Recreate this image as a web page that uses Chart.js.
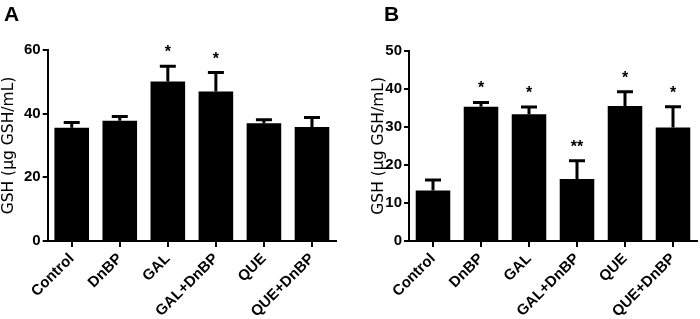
<!DOCTYPE html>
<html>
<head>
<meta charset="utf-8">
<script src="https://cdn.jsdelivr.net/npm/chart.js@4.4.0/dist/chart.umd.min.js"></script>
<style>
  html, body { margin: 0; padding: 0; background: #fff; }
  #wrap { position: relative; width: 700px; height: 319px; overflow: hidden; }
  .panel { position: absolute; top: 0; width: 350px; height: 319px; }
  .letter { position: absolute; top: 3px; font: bold 21px/21px "Liberation Sans", Arial, sans-serif; color: #000; }
</style>
</head>
<body>
<div id="wrap">
  <div class="panel" style="left:0"><canvas id="chart-a" width="350" height="319"></canvas></div>
  <div class="panel" style="left:350px"><canvas id="chart-b" width="350" height="319"></canvas></div>
  <div class="letter" style="left:4px">A</div>
  <div class="letter" style="left:384px">B</div>
</div>
<script>
  // groups (same for both panels)
  var categories = ['Control', 'DnBP', 'GAL', 'GAL+DnBP', 'QUE', 'QUE+DnBP'];

  // panel A: mean and upper error (µg GSH/mL)
  var gshA = [35.6, 37.8, 50.1, 47.0, 37.0, 35.8];
  var errA = [1.6, 1.3, 4.8, 5.9, 1.1, 3.0];
  var starsA = ['', '', '*', '*', '', ''];

  // panel B
  var gshB = [13.3, 35.3, 33.3, 16.3, 35.5, 29.8];
  var errB = [2.7, 1.1, 1.9, 4.8, 3.7, 5.5];
  var starsB = ['', '*', '*', '**', '*', '*'];

  var yTitle = 'GSH (µg GSH/mL)';
  var FONT = '"Liberation Sans", Arial, sans-serif';

  Chart.defaults.font.family = FONT;
  Chart.defaults.color = '#000';

  // error bars (upper only) + significance stars
  var errorBars = {
    id: 'errorBars',
    afterDatasetsDraw: function(chart, args, opts) {
      var ctx = chart.ctx;
      var y = chart.scales.y;
      var ds = chart.data.datasets[0];
      var meta = chart.getDatasetMeta(0);
      ctx.save();
      ctx.strokeStyle = '#000';
      ctx.fillStyle = '#000';
      ctx.lineWidth = 3;
      meta.data.forEach(function(bar, i) {
        var top = y.getPixelForValue(ds.data[i] + opts.errors[i]);
        ctx.beginPath();
        ctx.moveTo(bar.x, bar.y);
        ctx.lineTo(bar.x, top);
        ctx.moveTo(bar.x - 8, top);
        ctx.lineTo(bar.x + 8, top);
        ctx.stroke();
        if (opts.stars[i]) {
          ctx.font = 'bold 16px ' + FONT;
          ctx.textAlign = 'center';
          ctx.textBaseline = 'alphabetic';
          ctx.fillText(opts.stars[i], bar.x, top - 9);
        }
      });
      ctx.restore();
    }
  };

  function makePanel(id, values, errors, stars, yMax, yStep, box) {
    return new Chart(document.getElementById(id), {
      type: 'bar',
      data: {
        labels: categories,
        datasets: [{
          data: values,
          backgroundColor: '#000',
          borderWidth: 0,
          barPercentage: 0.72,
          categoryPercentage: 1
        }]
      },
      options: {
        responsive: false,
        animation: false,
        devicePixelRatio: 1,
        layout: { padding: { top: box.top, left: box.left, right: box.right, bottom: 0 } },
        plugins: {
          legend: { display: false },
          tooltip: { enabled: false },
          errorBars: { errors: errors, stars: stars }
        },
        scales: {
          x: {
            offset: true,
            ticks: {
              color: '#000', autoSkip: false, minRotation: 45, maxRotation: 45, padding: 3,
              font: { size: 15, weight: 'bold' }
            },
            grid: { offset: false, drawOnChartArea: false, tickLength: 6, color: '#000', lineWidth: 2 },
            border: { display: true, color: '#000', width: 2 },
            afterFit: function(scale) { scale.height = 78; }
          },
          y: {
            min: 0,
            max: yMax,
            ticks: { stepSize: yStep, color: '#000', padding: 2, font: { size: 15, weight: 'bold' } },
            grid: { drawOnChartArea: false, tickLength: 5, color: '#000', lineWidth: 2 },
            border: { display: true, color: '#000', width: 2 },
            title: {
              display: true, text: yTitle, color: '#000',
              font: { family: '"DejaVu Sans", sans-serif', size: 15.5 },
              padding: { top: 0, bottom: 0 }
            },
            afterFit: function(scale) { scale.width = box.yWidth; }
          }
        }
      },
      plugins: [errorBars]
    });
  }

  makePanel('chart-a', gshA, errA, starsA, 60, 20, { top: 50, left: 0, right: 14, yWidth: 47.7 });
  makePanel('chart-b', gshB, errB, starsB, 50, 10, { top: 50.7, left: 20, right: 3, yWidth: 39 });
</script>
</body>
</html>
